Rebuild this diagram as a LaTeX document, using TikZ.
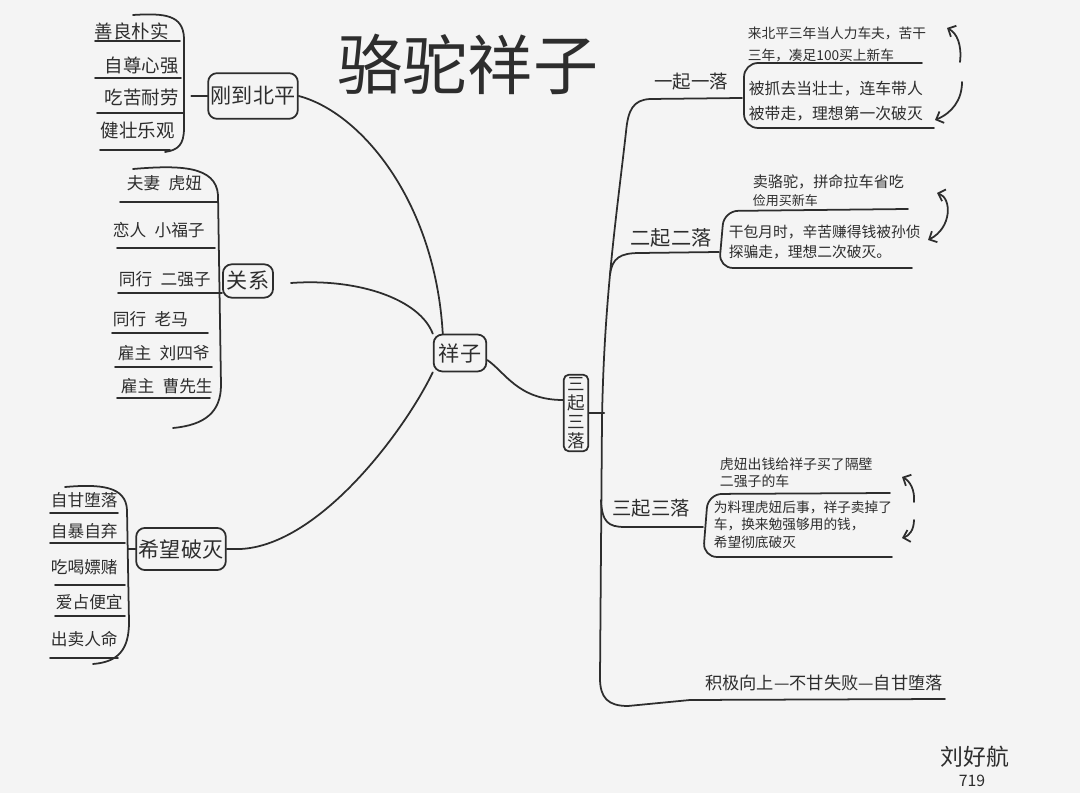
\documentclass[tikz,border=0pt]{standalone}
\usepackage{fontspec}
\setmainfont{Noto Sans CJK SC}
\usetikzlibrary{arrows.meta,calc,positioning}
\definecolor{ink}{RGB}{45,45,45}
\definecolor{paper}{RGB}{244,244,244}
\newcommand{\fsz}[2]{\fontsize{#1}{#2}\selectfont}
\tikzset{
  every picture/.style={ink, line width=1pt, line cap=round, line join=round,
    >={Straight Barb[length=3.5pt,width=7pt]}},
  every node/.style={inner sep=0pt, text=ink},
  % Kaesten
  box/.style={draw, rounded corners=5pt, inner xsep=1.5pt, inner ysep=3pt, font=\fsz{12}{14}},
  leaf/.style={anchor=west},
  note/.style={anchor=north west, align=left},
  branch/.style={font=\fsz{11}{13}},
}
\begin{document}
\begin{tikzpicture}[x=0.02cm, y=-0.02cm]
  % Papier
  \fill[paper] (0,0) rectangle (1080,793);
  \useasboundingbox (0,0) rectangle (1080,793);
  \node[font=\fsz{37}{40}] (title) at (468,64) {骆驼祥子};

  % Mitte und Hauptaeste
  \node[box, minimum width=30pt, minimum height=21pt] (root) at (460,353) {祥子};
  \node[box, minimum height=26pt] (arrive) at (253,96) {刚到北平};
  \node[box, minimum width=28.5pt, minimum height=19pt] (rel) at (248,281) {关系};
  \node[box, minimum height=24pt] (hope) at (181,549) {希望破灭};
  \node[box, rounded corners=3pt, font=\fsz{10}{10.8}, align=center, inner xsep=2pt, inner ysep=1.5pt] (ups) at (576,413) {三\\起\\三\\落};

  \draw (arrive.east) .. controls (360,112) and (435,200) .. ($(root.north west)+(10,0)$);
  \draw ($(rel.east)+(17,2)$) .. controls (360,278) and (420,300) .. (root.north west);
  \draw (hope.east) -- ++(14,0) .. controls (320,545) and (405,430) .. (root.south west);
  \draw ($(root.east)+(0,7)$) .. controls (505,372) and (518,400) .. ($(ups.west)+(0,-13)$);
  \draw (ups.east) -- ++(15,0);

  % Eigenschaften
  \foreach \txt/\x/\y [count=\i] in {善良朴实/94/31, 自尊心强/104/66, 吃苦耐劳/104/97, 健壮乐观/100/131}
    \node[leaf, font=\fsz{10.5}{12}] (trait\i) at (\x,\y) {\txt};
  \foreach \y/\a/\b in {41/95/180, 78/95/181, 113/97/183, 150/100/170}
    \draw (\a,\y) -- (\b,\y);
  \draw (133,15) .. controls (165,13) and (183,15) .. (184,38) -- (184,128) .. controls (184,145) and (178,150) .. (165,152);
  \draw (arrive.west) -- ++(-16,0);

  % Beziehungen
  \foreach \txt/\x/\y [count=\i] in {夫妻\enspace 虎妞/126/183, 恋人\enspace 小福子/112/230, 同行\enspace 二强子/118/279,
      同行\enspace 老马/112/319, 雇主\enspace 刘四爷/117/353, 雇主\enspace 曹先生/120/386}
    \node[leaf, font=\fsz{9.5}{11}] (person\i) at (\x,\y) {\txt};
  \foreach \y/\a/\b in {202/120/217, 248/117/215, 293/118/222, 333/112/208, 367/115/212, 398/117/210}
    \draw (\a,\y) -- (\b,\y);
  \draw (133,169) .. controls (180,165) and (216,166) .. (218,195) -- (221,385) .. controls (221,412) and (205,425) .. (173,428);

  % Niedergang
  \foreach \txt/\x/\y [count=\i] in {自甘堕落/50/500, 自暴自弃/50/531, 吃喝嫖赌/50/567, 爱占便宜/55/602, 出卖人命/50/639}
    \node[leaf, font=\fsz{9.5}{11}] (fall\i) at (\x,\y) {\txt};
  \foreach \y/\a/\b in {513/50/118, 543/50/125, 585/55/125, 616/55/125, 658/50/118}
    \draw (\a,\y) -- (\b,\y);
  \draw (65,487) .. controls (100,484) and (126,486) .. (127,510) -- (129,622) .. controls (129,650) and (118,662) .. (93,664);
  \draw (hope.west) -- ++(-7,0);

  % Stamm der drei Aufstiege
  \coordinate (top) at (742,98);
  \coordinate (foot) at (945,699);
  \draw (top) -- (650,99) .. controls (633,100) and (628,110) .. (626,132)
    .. controls (616,220) and (604,300) .. (602,420) -- (600,678)
    .. controls (600,698) and (608,706) .. (628,706) -- (690,700) -- (foot);
  \draw (610,275) .. controls (612,258) and (620,253) .. (640,253) -- (719,252);
  \draw (601,500) .. controls (602,522) and (608,527) .. (625,527) -- (703,527);
  \node[branch, font=\fsz{10.5}{12}] (up1) at (691,82) {一起一落};
  \node[branch, font=\fsz{11.5}{13}] (up2) at (671,238) {二起二落};
  \node[branch] (up3) at (651,508) {三起三落};
  \node[font=\fsz{9.8}{12}] (trend) at (824,683) {积极向上—不甘失败—自甘堕落};

  % erstes Mal
  \node[note, font=\fsz{7.8}{12.5}] (d1a) at (747,26) {来北平三年当人力车夫，苦干\\三年，凑足100买上新车};
  \draw[rounded corners=8pt] (922,63) -- (744,63) -- (744,128) -- (934,128);
  \node[note, font=\fsz{9}{14.2}] (d1b) at (748,80) {被抓去当壮士，连车带人\\被带走，理想第一次破灭};
  \draw[->] (960,62) .. controls (962,45) and (957,33) .. (947,28);
  \draw[->] (962,82) .. controls (962,100) and (952,113) .. (935,120);

  % zweites Mal
  \node[note, font=\fsz{8.6}{10}] (d2a) at (752,174) {卖骆驼，拼命拉车省吃\\{\fsz{7.4}{8.4}俭用买新车}};
  \draw[rounded corners=8pt] (908,209) -- (724,211) -- (719,268) -- (912,268);
  \node[note, font=\fsz{8.4}{11.4}] (d2b) at (728,224) {干包月时，辛苦赚得钱被孙侦\\探骗走，理想二次破灭。};
  \draw[<->] (937,193) .. controls (952,198) and (952,228) .. (928,240);

  % drittes Mal
  \node[note, font=\fsz{7.9}{9.8}] (d3a) at (719,457) {虎妞出钱给祥子买了隔壁\\二强子的车};
  \draw[rounded corners=8pt] (890,493) -- (708,494) -- (703,557) -- (892,557);
  \node[note, font=\fsz{7.8}{10}] (d3b) at (713,500) {为料理虎妞后事，祥子卖掉了\\车，换来勉强够用的钱，\\希望彻底破灭};
  \draw[->] (914,502) .. controls (915,490) and (910,481) .. (902,477);
  \draw[->] (914,520) .. controls (914,530) and (909,536) .. (902,538);

  % Name
  \node[font=\fsz{13}{14}] (sign) at (975,757) {刘好航};
  \node[font=\fsz{9}{10}] (num) at (972,781) {719};
\end{tikzpicture}
\end{document}
